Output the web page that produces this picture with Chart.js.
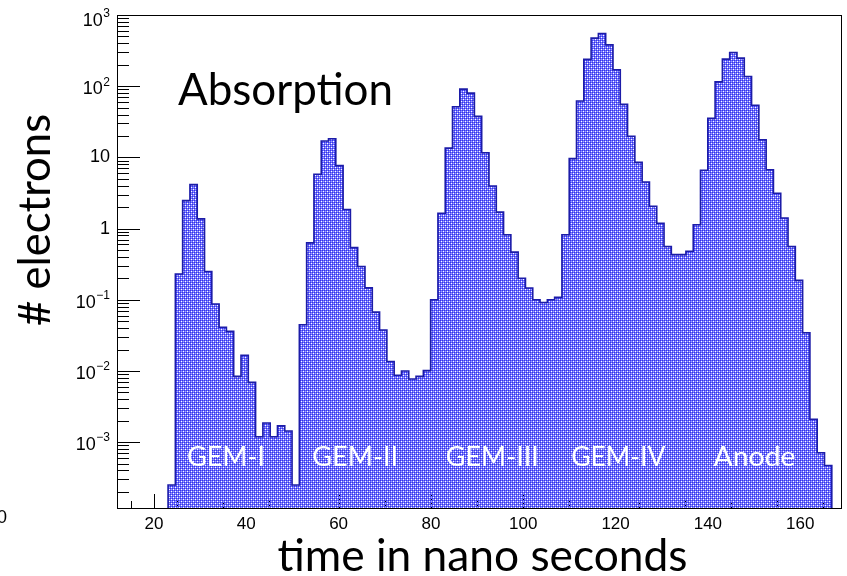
<!DOCTYPE html>
<html>
<head>
<meta charset="utf-8">
<script src="https://cdn.jsdelivr.net/npm/chart.js@4.4.1/dist/chart.umd.min.js"></script>
<style>
  html, body { margin: 0; padding: 0; background: #ffffff; }
  canvas { display: block; }
</style>
</head>
<body>
<canvas id="c" width="847" height="576"></canvas>
<script>
// ---- histogram binning (time in ns) ----
const binLow = 12;
const binWidth = 1.58;
const xMin = 12;
const xMax = 169.05;
const yMin = 1.15e-4;
const yMax = 1000;

// electrons per time bin (100 bins starting at binLow)
const counts = [
  0, 0, 0, 0, 0, 0, 0,
  2.5e-4, 0.23, 2.47, 4.14, 1.37, 0.25, 0.087, 0.041, 0.036, 0.0084,
  0.0166, 0.0069, 0.00119, 0.00186, 0.00119, 0.00169, 0.00143, 2.5e-4,
  0.0446, 0.63, 5.8, 17, 18.3, 7.65, 1.85, 0.54, 0.293, 0.147,
  0.067, 0.0376, 0.0136, 0.0087, 0.010, 0.0077, 0.0084, 0.0101,
  0.1, 1.64, 13.5, 51.4, 91, 80, 37.7, 11.6, 3.97, 1.7,
  0.82, 0.467, 0.2, 0.146, 0.1, 0.0917, 0.1, 0.108,
  0.82, 9.6, 62, 238, 473, 550, 380, 170, 55.6, 19.8,
  8.5, 4.5, 2.06, 1.19, 0.56, 0.43, 0.43, 0.48,
  1.13, 6.6, 35.3, 115, 240, 298, 248, 137, 54, 17.7,
  6.7, 3.14, 1.41, 0.56, 0.187, 0.0344, 0.0021, 7.1e-4, 4.7e-4,
  0, 0
];

// axis ticks
const xTickValues = [20, 40, 60, 80, 100, 120, 140, 160];
const xTickLabels = ['20', '40', '60', '80', '100', '120', '140', '160'];
const xMinorStep = 5;
const yTickValues = [1e-3, 1e-2, 1e-1, 1, 10, 100, 1000];
const yTickLabels = [['10', '\u22123'], ['10', '\u22122'], ['10', '\u22121'], ['1', ''], ['10', ''], ['10', '2'], ['10', '3']];

// amplification stage names
const stageLabels = ['GEM-I', 'GEM-II', 'GEM-III', 'GEM-IV', 'Anode'];

// ---- build step-histogram points ----
const floorVal = yMin / 100;
const histPoints = counts.map((c, i) => ({ x: binLow + i * binWidth, y: c > 0 ? c : floorVal }));
histPoints.push({ x: binLow + counts.length * binWidth, y: floorVal });

// hatched blue fill (dithered pattern)
function makePattern() {
  const pc = document.createElement('canvas');
  pc.width = 4; pc.height = 4;
  const g = pc.getContext('2d');
  const D = [50, 50, 235, 255], M = [110, 110, 250, 255], L = [165, 165, 255, 255], W = [0, 0, 0, 0];
  const grid = [
    [D, M, D, M],
    [M, W, M, L],
    [D, M, D, M],
    [M, L, M, W]
  ];
  const img = g.createImageData(4, 4);
  for (let r = 0; r < 4; r++) for (let c = 0; c < 4; c++) {
    const p = grid[r][c], k = (r * 4 + c) * 4;
    img.data[k] = p[0]; img.data[k + 1] = p[1]; img.data[k + 2] = p[2]; img.data[k + 3] = p[3];
  }
  g.putImageData(img, 0, 0);
  return g.createPattern(pc, 'repeat');
}

const tickFont = '"Liberation Sans", Arial, Helvetica, sans-serif';
const textFont = 'Lato, "Open Sans", sans-serif';

// draw text squeezed/stretched to a given width
function fitText(ctx, text, x, y, size, width, rot) {
  ctx.save();
  ctx.font = size + 'px ' + textFont;
  const w = ctx.measureText(text).width;
  ctx.translate(x, y);
  if (rot) ctx.rotate(rot);
  ctx.scale(width / w, 1);
  ctx.textAlign = 'center';
  ctx.textBaseline = 'alphabetic';
  ctx.fillText(text, 0, 0);
  ctx.restore();
}

const rootFrame = {
  id: 'rootFrame',
  beforeDatasetsDraw(chart) {
    const { ctx, chartArea: a, scales: { x, y } } = chart;
    ctx.save();
    ctx.strokeStyle = '#000';
    ctx.lineWidth = 1;
    ctx.beginPath();
    for (let t = Math.ceil(xMin / xMinorStep) * xMinorStep; t <= xMax; t += xMinorStep) {
      const px = Math.round(x.getPixelForValue(t)) + 0.5;
      const len = xTickValues.includes(t) ? 15 : 8;
      ctx.moveTo(px, a.bottom);
      ctx.lineTo(px, a.bottom - len);
    }
    for (let e = -4; e <= 3; e++) {
      for (let m = 1; m <= 9; m++) {
        const v = m * Math.pow(10, e);
        if (v < yMin || v > yMax * 1.0001) continue;
        const py = Math.round(y.getPixelForValue(v)) + 0.5;
        const len = m === 1 ? 23 : 12;
        ctx.moveTo(a.left, py);
        ctx.lineTo(a.left + len, py);
      }
    }
    ctx.stroke();
    ctx.restore();
  },
  afterDatasetsDraw(chart, args, opts) {
    const { ctx, chartArea: a, scales: { x, y } } = chart;
    ctx.save();
    // frame
    ctx.strokeStyle = '#000';
    ctx.lineWidth = 1;
    ctx.strokeRect(a.left + 0.5, a.top + 0.5, a.right - a.left - 1, a.bottom - a.top - 1);

    // x tick labels
    ctx.fillStyle = '#000';
    ctx.font = '17px ' + tickFont;
    ctx.textAlign = 'center';
    ctx.textBaseline = 'middle';
    xTickValues.forEach((v, i) => {
      ctx.fillText(xTickLabels[i], x.getPixelForValue(v), a.bottom + 15);
    });

    // y tick labels with exponents
    const right = a.left - 7;
    yTickValues.forEach((v, i) => {
      const [base, exp] = yTickLabels[i];
      const py = y.getPixelForValue(v);
      ctx.textAlign = 'right';
      ctx.textBaseline = 'middle';
      if (!exp) {
        ctx.font = '18px ' + tickFont;
        ctx.fillText(base, right, py);
      } else {
        const shift = v >= yMax ? 3 : 0;
        ctx.font = '12px ' + tickFont;
        const ew = ctx.measureText(exp).width;
        ctx.fillText(exp, right, py - 4 + shift);
        ctx.font = '18px ' + tickFont;
        ctx.fillText(base, right - ew - 0.5, py + 3 + shift);
      }
    });
    // stray label at the left edge
    ctx.font = '18px ' + tickFont;
    ctx.textAlign = 'right';
    ctx.fillText('0', 7, 518);

    // stage labels inside the histogram
    ctx.fillStyle = '#ffffff';
    stageLabels.forEach((s, i) => {
      fitText(ctx, s, x.getPixelForValue(opts.stageTimes[i]), opts.stageBaseline, 27, opts.stageWidths[i]);
    });

    // panel caption and axis titles
    ctx.fillStyle = '#000000';
    fitText(ctx, 'Absorption', 285.5, 105, 45, 215);
    fitText(ctx, 'time in nano seconds', (a.left + a.right) / 2 + 3, 571, 45, 410);
    fitText(ctx, '# electrons', 50, 220, 45, 212, -Math.PI / 2);
    ctx.restore();
  }
};

new Chart(document.getElementById('c'), {
  type: 'line',
  data: {
    datasets: [{
      data: histPoints,
      stepped: 'before',
      fill: 'start',
      backgroundColor: makePattern(),
      borderColor: '#1c1ca8',
      borderWidth: 1.6,
      pointRadius: 0,
      pointHoverRadius: 0,
      tension: 0,
      clip: 0
    }]
  },
  options: {
    responsive: false,
    animation: false,
    devicePixelRatio: 1,
    layout: { padding: { left: 117, top: 15, right: 5, bottom: 67 } },
    scales: {
      x: { type: 'linear', min: xMin, max: xMax, bounds: 'data', display: false },
      y: { type: 'logarithmic', min: yMin, max: yMax, bounds: 'data', display: false }
    },
    plugins: {
      legend: { display: false },
      tooltip: { enabled: false },
      rootFrame: {
        stageTimes: [35.6, 63.6, 93.3, 120.6, 150.1],
        stageWidths: [78, 86, 93, 94, 82],
        stageBaseline: 466
      }
    }
  },
  plugins: [rootFrame]
});
</script>
</body>
</html>
